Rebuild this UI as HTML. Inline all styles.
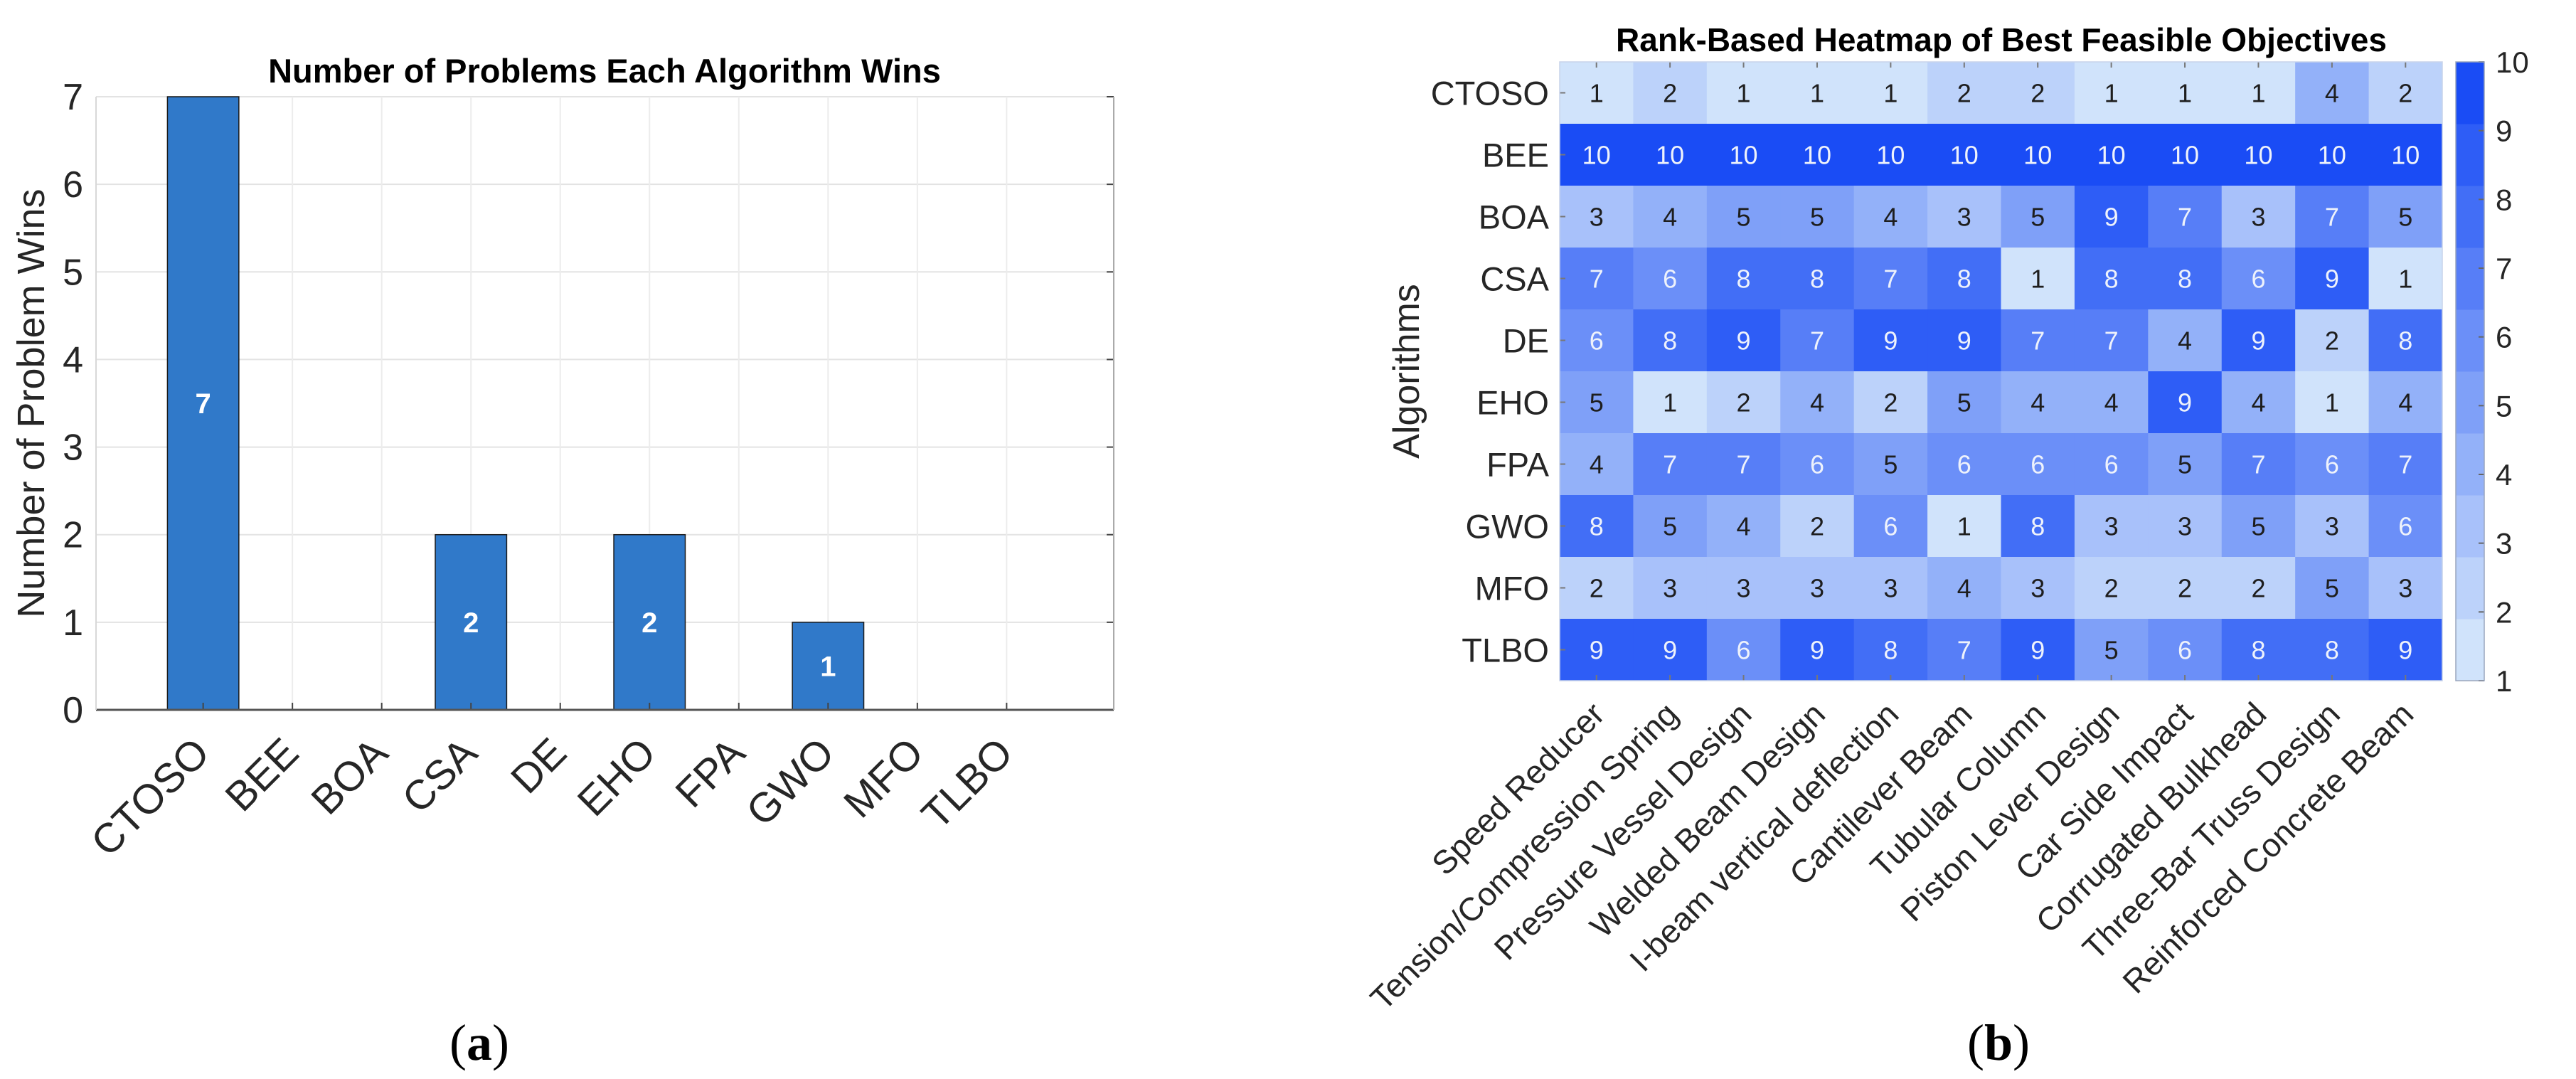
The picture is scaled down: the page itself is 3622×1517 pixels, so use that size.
<!DOCTYPE html>
<html><head><meta charset="utf-8"><style>
html,body{margin:0;padding:0;background:#fff;}
svg{display:block;font-family:"Liberation Sans",Arial,sans-serif;}
</style></head><body>
<svg id="fig" width="3622" height="1517" viewBox="0 0 3622 1517" xmlns="http://www.w3.org/2000/svg">
<g id="barChart"></g>
<g id="heatChart"></g>
</svg>
<script>
// ---- Bar chart data ----
const barCategories = ["CTOSO","BEE","BOA","CSA","DE","EHO","FPA","GWO","MFO","TLBO"];
const barValues = [7,0,0,2,0,2,0,1,0,0];
const barYTicks = [0,1,2,3,4,5,6,7];

// ---- Heatmap data ----
const heatRows = ["CTOSO","BEE","BOA","CSA","DE","EHO","FPA","GWO","MFO","TLBO"];
const heatCols = ["Speed Reducer","Tension/Compression Spring","Pressure Vessel Design","Welded Beam Design","I-beam vertical deflection","Cantilever Beam","Tubular Column","Piston Lever Design","Car Side Impact","Corrugated Bulkhead","Three-Bar Truss Design","Reinforced Concrete Beam"];
const heatValues = [
[1,2,1,1,1,2,2,1,1,1,4,2],
[10,10,10,10,10,10,10,10,10,10,10,10],
[3,4,5,5,4,3,5,9,7,3,7,5],
[7,6,8,8,7,8,1,8,8,6,9,1],
[6,8,9,7,9,9,7,7,4,9,2,8],
[5,1,2,4,2,5,4,4,9,4,1,4],
[4,7,7,6,5,6,6,6,5,7,6,7],
[8,5,4,2,6,1,8,3,3,5,3,6],
[2,3,3,3,3,4,3,2,2,2,5,3],
[9,9,6,9,8,7,9,5,6,8,8,9]
];
const colorbarTicks = [1,2,3,4,5,6,7,8,9,10];

const NS = "http://www.w3.org/2000/svg";
function mk(tag, attrs, parent, text){
  const e = document.createElementNS(NS, tag);
  for (const k in attrs) e.setAttribute(k, attrs[k]);
  if (text !== undefined) e.textContent = text;
  parent.appendChild(e);
  return e;
}

// ===== Bar chart =====
(function(){
  const g = document.getElementById("barChart");
  const L=135, R=1566, T=136, B=998;
  const xmin=-0.2, xmax=11.2, ymin=0, ymax=7;
  const xs = v => L + (v - xmin)/(xmax - xmin)*(R-L);
  const ys = v => B - (v - ymin)/(ymax - ymin)*(B-T);
  const bg = mk("rect",{x:L,y:T,width:R-L,height:B-T,fill:"#fff"},g);
  
  
  barYTicks.forEach(t=>{
    const l = mk("line",{x1:L,x2:R,y1:ys(t),y2:ys(t),stroke:"#e3e3e3","stroke-width":2},g);
    
    
    const tk = mk("line",{x1:R-10,x2:R,y1:ys(t),y2:ys(t),stroke:"#444","stroke-width":2},g);
    
    
    const tx = mk("text",{x:L-18,y:ys(t)+18,"text-anchor":"end","font-size":52,fill:"#262626"},g,String(t));
    
    
  });
  barCategories.forEach((c,i)=>{
    const x = xs(i+1);
    const l = mk("line",{x1:x,x2:x,y1:T,y2:B,stroke:"#ececec","stroke-width":2},g);
    
    
  });
  const bw = 0.8*(xs(2)-xs(1));
  barValues.forEach((v,i)=>{
    if (v<=0) return;
    const x = xs(i+1);
    const r = mk("rect",{x:x-bw/2,y:ys(v),width:bw,height:ys(0)-ys(v),fill:"#3079c9",stroke:"#1a1a1a","stroke-width":1.5},g);
    
    
    const t = mk("text",{x:x,y:ys(v/2)+14,"text-anchor":"middle","font-size":40,"font-weight":"bold",fill:"#fff"},g,String(v));
    
    
  });
  barCategories.forEach((c,i)=>{
    const x = xs(i+1);
    const tk = mk("line",{x1:x,x2:x,y1:B,y2:B-10,stroke:"#444","stroke-width":2},g);
    
    
    const ax=x+12, ay=B+64;
    const t = mk("text",{x:ax,y:ay,"text-anchor":"end","font-size":58,fill:"#262626",transform:`rotate(-45 ${ax} ${ay})`},g,c);
    
    
  });
  const axl = mk("line",{x1:L,x2:R,y1:B,y2:B,stroke:"#555","stroke-width":3},g);
  
  
  const ay = mk("line",{x1:L,x2:L,y1:T,y2:B,stroke:"#d8d8d8","stroke-width":2},g);
  
  
  const ar = mk("line",{x1:R,x2:R,y1:T,y2:B,stroke:"#aaa","stroke-width":2},g);
  
  
  const title = mk("text",{x:850,y:116,"text-anchor":"middle","font-size":47,"font-weight":"bold",fill:"#000"},g,"Number of Problems Each Algorithm Wins");
  
  
  const yl = mk("text",{x:62,y:(T+B)/2,"text-anchor":"middle","font-size":54,fill:"#262626",transform:`rotate(-90 62 ${(T+B)/2})`},g,"Number of Problem Wins");
  
  
  const cap = mk("text",{x:674,y:1490,"text-anchor":"middle","font-size":72,"font-family":"Liberation Serif, serif",fill:"#000"},g,"");
  
  
  mk("tspan",{},cap,"(");
  mk("tspan",{"font-weight":"bold"},cap,"a");
  mk("tspan",{},cap,")");
})();

// ===== Heatmap =====
(function(){
  const g = document.getElementById("heatChart");
  const L=2193, R=3434, T=87, B=957;
  const nR = heatRows.length, nC = heatCols.length;
  const cw = (R-L)/nC, rh = (B-T)/nR;
  const vmin=1, vmax=10;
  const c0=[208,227,251], c1=[26,76,245];
  function col(v){
    const f=(v-vmin)/(vmax-vmin);
    const c=c0.map((a,i)=>Math.round(a+(c1[i]-a)*f));
    return `rgb(${c[0]},${c[1]},${c[2]})`;
  }
  heatValues.forEach((row,ri)=>{
    row.forEach((v,ci)=>{
      const x=L+ci*cw, y=T+ri*rh;
      const r = mk("rect",{x:x,y:y,width:cw+0.5,height:rh+0.5,fill:col(v)},g);
      
      
      const t = mk("text",{x:x+cw/2,y:y+rh/2+13,"text-anchor":"middle","font-size":36,fill:v>=6?"#eef2fb":"#1e1e1e"},g,String(v));
      
      
    });
  });
  heatRows.forEach((name,ri)=>{
    const y=T+(ri+0.5)*rh;
    const tk = mk("line",{x1:L,x2:L+8,y1:y,y2:y,stroke:"#777","stroke-width":2},g);
    
    
    const t = mk("text",{x:L-15,y:y+17,"text-anchor":"end","font-size":47,fill:"#262626"},g,name);
    
    
  });
  heatCols.forEach((name,ci)=>{
    const x=L+(ci+0.5)*cw;
    const tk = mk("line",{x1:x,x2:x,y1:B,y2:B-8,stroke:"#777","stroke-width":2},g);
    
    
    const tk2 = mk("line",{x1:x,x2:x,y1:T,y2:T+8,stroke:"#777","stroke-width":2},g);
    
    
    const ax=x+14, ay=B+50;
    const t = mk("text",{x:ax,y:ay,"text-anchor":"end","font-size":46,fill:"#262626",transform:`rotate(-45 ${ax} ${ay})`},g,name);
    
    
  });
  const fr = mk("rect",{x:L,y:T,width:R-L,height:B-T,fill:"none",stroke:"#c8d4ea","stroke-width":1.5},g);
  
  
  const title = mk("text",{x:2814,y:72,"text-anchor":"middle","font-size":46,"font-weight":"bold",fill:"#000"},g,"Rank-Based Heatmap of Best Feasible Objectives");
  
  
  const yl = mk("text",{x:1995,y:(T+B)/2,"text-anchor":"middle","font-size":52,fill:"#262626",transform:`rotate(-90 1995 ${(T+B)/2})`},g,"Algorithms");
  
  
  const CL=3453, CR=3493;
  const cbs = v => B - (v-vmin)/(vmax-vmin)*(B-T);
  const bandH=(B-T)/colorbarTicks.length;
  colorbarTicks.forEach((v,i)=>{
    const r = mk("rect",{x:CL,y:B-(i+1)*bandH,width:CR-CL,height:bandH+0.5,fill:col(v)},g);
    
    
  });
  colorbarTicks.forEach(v=>{
    const y=cbs(v);
    const tk = mk("line",{x1:CR-8,x2:CR,y1:y,y2:y,stroke:"#666","stroke-width":2},g);
    
    
    const t = mk("text",{x:CR+16,y:y+15,"font-size":42,fill:"#262626"},g,String(v));
    
    
  });
  const cf = mk("rect",{x:CL,y:T,width:CR-CL,height:B-T,fill:"none",stroke:"#9aa6bd","stroke-width":1.5},g);
  
  
  const cap = mk("text",{x:2810,y:1490,"text-anchor":"middle","font-size":72,"font-family":"Liberation Serif, serif",fill:"#000"},g,"");
  
  
  mk("tspan",{},cap,"(");
  mk("tspan",{"font-weight":"bold"},cap,"b");
  mk("tspan",{},cap,")");
})();
</script>
</body></html>
